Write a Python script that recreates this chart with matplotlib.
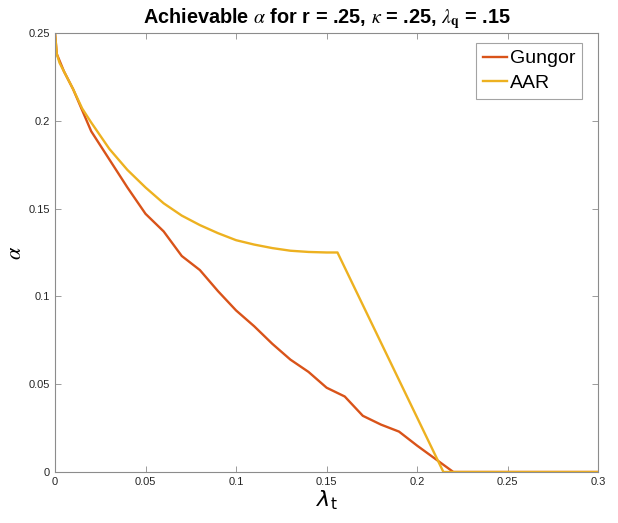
import matplotlib
matplotlib.use("Agg")
from matplotlib import pyplot as plt

# lambda_t values and achievable alpha
gungor_x = [0, 0.001, 0.005, 0.01, 0.015, 0.02, 0.03, 0.04, 0.05, 0.06, 0.07, 0.08,
            0.09, 0.10, 0.11, 0.12, 0.13, 0.14, 0.15, 0.16, 0.17, 0.18, 0.19, 0.20,
            0.21, 0.22, 0.3]
gungor_y = [0.25, 0.238, 0.228, 0.218, 0.206, 0.194, 0.178, 0.162, 0.147, 0.137,
            0.123, 0.115, 0.103, 0.092, 0.083, 0.073, 0.064, 0.057, 0.048, 0.043,
            0.032, 0.027, 0.023, 0.015, 0.0075, 0, 0]

aar_x = [0, 0.001, 0.0025, 0.005, 0.01, 0.015, 0.02, 0.03, 0.04, 0.05, 0.06, 0.07,
         0.08, 0.09, 0.10, 0.11, 0.12, 0.13, 0.14, 0.15, 0.156, 0.2145, 0.3]
aar_y = [0.25, 0.238, 0.233, 0.228, 0.218, 0.207, 0.199, 0.184, 0.172, 0.162,
         0.153, 0.146, 0.1406, 0.136, 0.132, 0.1295, 0.1275, 0.126, 0.1253, 0.125,
         0.125, 0, 0]

xticks = [0, 0.05, 0.1, 0.15, 0.2, 0.25, 0.3]
xticklabels = ['0', '0.05', '0.1', '0.15', '0.2', '0.25', '0.3']
yticks = [0, 0.05, 0.1, 0.15, 0.2, 0.25]
yticklabels = ['0', '0.05', '0.1', '0.15', '0.2', '0.25']

plt.rcParams['font.family'] = ['Liberation Sans', 'DejaVu Sans']
plt.rcParams['mathtext.fontset'] = 'stix'

fig = plt.figure(figsize=(6.18, 5.23), dpi=100)
ax = fig.add_axes([0.089, 0.0975, 0.879, 0.8395])

ax.plot(gungor_x, gungor_y, color='#D95319', lw=1.7, label='Gungor')
ax.plot(aar_x, aar_y, color='#EDB120', lw=1.7, label='AAR')

ax.set_xlim(0, 0.3)
ax.set_ylim(0, 0.25)
ax.set_xticks(xticks)
ax.set_xticklabels(xticklabels)
ax.set_yticks(yticks)
ax.set_yticklabels(yticklabels)
ax.tick_params(direction='in', top=True, right=True, labelsize=8,
               labelcolor='#262626', color='#8c8c8c', length=4, width=0.6)
for s in ax.spines.values():
    s.set_color('#8c8c8c')
    s.set_linewidth(0.8)

ax.set_title(r'Achievable $\alpha$ for r = .25, $\kappa$ = .25, $\lambda_{\mathbf{q}}$ = .15',
             fontsize=14.3, fontweight='bold', pad=7)
ax.set_xlabel(r'$\lambda_{\mathrm{t}}$', fontsize=16, labelpad=1,
              math_fontfamily='dejavusans')
ax.set_ylabel(r'$\alpha$', fontsize=16, labelpad=2)

leg = ax.legend(loc='upper right', bbox_to_anchor=(0.971, 0.977), fontsize=14,
                fancybox=False, handlelength=1.25, handletextpad=0.15,
                borderpad=0.35, labelspacing=0.35, borderaxespad=0)
leg.get_frame().set_edgecolor('#8c8c8c')
leg.get_frame().set_linewidth(0.8)

fig.savefig('out.png', dpi=100)
